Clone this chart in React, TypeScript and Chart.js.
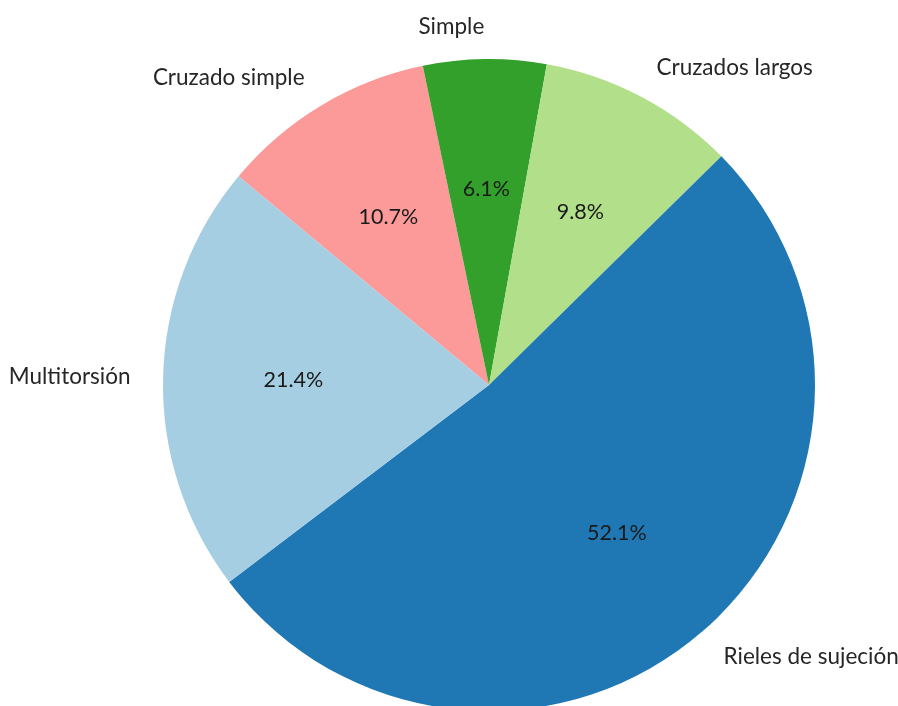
import React, { useEffect, useRef } from "react";
import { Chart, registerables } from "chart.js";

Chart.register(...registerables);

// Clockwise order (as drawn on screen), starting at the Multitorsión/Cruzado simple boundary
const categories = ["Cruzado simple", "Simple", "Cruzados largos", "Rieles de sujeción", "Multitorsión"];
const values = [10.7, 6.1, 9.8, 52.1, 21.4];
const percentLabels = ["10.7%", "6.1%", "9.8%", "52.1%", "21.4%"];
const colors = ["#fb9a99", "#33a02c", "#b2df8a", "#1f78b4", "#a6cee3"];

const FONT = "Lato, 'Noto Sans', sans-serif";

const labelPlugin = {
  id: "pieLabels",
  afterDatasetsDraw(chart: any) {
    const ctx = chart.ctx;
    const meta = chart.getDatasetMeta(0);
    ctx.save();
    meta.data.forEach((arc: any, i: number) => {
      const { x, y, startAngle, endAngle, outerRadius } = arc.getProps(
        ["x", "y", "startAngle", "endAngle", "outerRadius"],
        true
      );
      const mid = (startAngle + endAngle) / 2;
      const cos = Math.cos(mid);
      const sin = Math.sin(mid);
      // outside category label
      const lx = x + cos * outerRadius * 1.1;
      const ly = y + sin * outerRadius * 1.1;
      ctx.font = `22.5px ${FONT}`;
      ctx.fillStyle = "#262626";
      ctx.textBaseline = "middle";
      ctx.textAlign = cos > 0 ? "left" : "right";
      ctx.fillText(categories[i], lx, ly);
      // percentage inside
      const px = x + cos * outerRadius * 0.6;
      const py = y + sin * outerRadius * 0.6;
      ctx.font = `21.5px ${FONT}`;
      ctx.textAlign = "center";
      ctx.fillStyle = "#1a1a1a";
      ctx.fillText(percentLabels[i], px, py);
    });
    ctx.restore();
  },
};

export default function App() {
  const ref = useRef<HTMLCanvasElement | null>(null);
  useEffect(() => {
    if (!ref.current) return;
    const chart = new Chart(ref.current, {
      type: "pie",
      data: {
        labels: categories,
        datasets: [
          {
            data: values,
            backgroundColor: colors,
            borderWidth: 0,
          },
        ],
      },
      options: {
        animation: false,
        responsive: false,
        rotation: -50.2,
        radius: 326,
        layout: { padding: { left: 80, right: 0, top: 64, bottom: 0 } },
        plugins: {
          legend: { display: false },
          tooltip: { enabled: false },
        },
      },
      plugins: [labelPlugin],
    });
    return () => chart.destroy();
  }, []);
  return (
    <div style={{ position: "absolute", left: 0, top: 0, width: 898, height: 706, background: "#fff" }}>
      <canvas ref={ref} width={898} height={706} />
    </div>
  );
}
